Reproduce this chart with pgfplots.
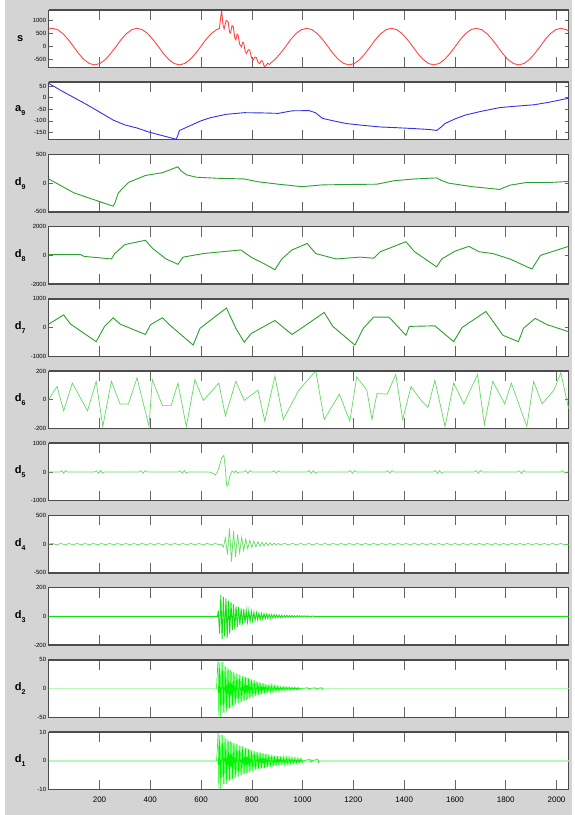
\documentclass[border=0pt]{standalone}
\usepackage{fontspec}
\setmainfont{Liberation Sans}
\usepackage{pgfplots}
\pgfplotsset{compat=1.18}
\definecolor{bggray}{RGB}{212,212,212}
\definecolor{cs}{RGB}{255,70,70}
\definecolor{ca}{RGB}{50,50,235}
\definecolor{cdk}{RGB}{45,160,45}
\definecolor{cd6}{RGB}{100,218,100}
\definecolor{cd5}{RGB}{95,222,95}
\definecolor{cd3}{RGB}{20,225,20}
\definecolor{cbr}{RGB}{0,245,0}
\definecolor{cpale}{RGB}{185,248,185}
\pgfplotsset{
  panel/.style={scale only axis, width=520pt, height=57.5pt, anchor=north west,
    xmin=0, xmax=2048, xtick={200,400,...,2000}, xticklabels={},
    tick align=inside, xtick pos=both, ytick pos=both,
    xtick style={gray!80!black, line width=0.6pt, /pgfplots/major tick length=10pt},
    ytick style={gray!80!black, line width=0.5pt, /pgfplots/major tick length=4pt},
    axis line style={gray!60!black, line width=0.6pt},
    axis background/.style={fill=white},
    /pgf/number format/assume math mode=true,
    /pgf/number format/1000 sep={},
    yticklabel style={font=\fontsize{6}{6}\selectfont, xshift=1pt},
    xticklabel style={font=\fontsize{8}{8}\selectfont, yshift=-4pt},
    ylabel style={rotate=-90, at={(axis description cs:-0.055,0.5)}, anchor=center, font=\fontsize{11}{11}\selectfont},
    every axis plot/.append style={line width=0.9pt},
  },
}
\newcommand{\lab}[2]{\textbf{#1}\raisebox{-4pt}{\fontsize{7}{7}\selectfont\textbf{#2}}}
\begin{document}
\begin{tikzpicture}
\useasboundingbox (0,0) rectangle (574pt,815pt);
\fill[white] (0,0) rectangle (574pt,815pt);
\fill[bggray] (4.5pt,0) rectangle (572pt,815pt);
% 1: s
\begin{axis}[panel, name=p1, at={(48.7pt,805pt)}, ymin=-800, ymax=1400, ytick={-500,0,500,1000}, ylabel={\textbf{s}}]
\addplot[cs] coordinates {
(0,676) (14,700) (35,647) (56,495) (77,268) (98,0) (118,-268) (139,-495) (160,-647) (181,-700) (202,-647) (223,-495) (244,-268) (265,0) (285,268) (306,495) (327,647)
(348,700) (369,647) (390,495) (411,268) (432,0) (452,-268) (473,-495) (494,-647) (515,-700) (536,-647) (557,-495) (578,-268) (599,0) (619,268) (640,495) (661,647)
(672,690) (681,1390) (687,800) (691,680) (699,1000) (707,940) (712,560) (716,520) (722,800) (727,760) (733,330) (737,260) (742,470) (746,440) (752,90) (759,-10) (764,160) (768,140) (774,-200) (779,-270) (786,-120) (792,-140) (799,-430) (805,-520) (812,-400) (818,-420) (825,-600) (831,-650) (837,-540) (842,-550) (849,-760) (855,-740) (862,-640) (870,-680) (878,-600) (891,-495)
(912,-268) (933,0) (953,268) (974,495) (995,647)
(1016,700) (1037,647) (1058,495) (1079,268) (1100,0) (1120,-268) (1141,-495) (1162,-647) (1183,-700) (1204,-647) (1225,-495) (1246,-268) (1267,0) (1287,268) (1308,495) (1329,647)
(1350,700) (1371,647) (1392,495) (1413,268) (1434,0) (1454,-268) (1475,-495) (1496,-647) (1517,-700) (1538,-647) (1559,-495) (1580,-268) (1601,0) (1621,268) (1642,495) (1663,647)
(1684,700) (1705,647) (1726,495) (1747,268) (1768,0) (1788,-268) (1809,-495) (1830,-647) (1851,-700) (1872,-647) (1893,-495) (1914,-268) (1935,0) (1955,268) (1976,495) (1997,647)
(2018,700) (2039,647) (2048,592)};
\end{axis}
% 2: a9
\begin{axis}[panel, name=p2, at={(48.7pt,732.8pt)}, ymin=-182, ymax=67, ytick={-150,-100,-50,0,50}, ylabel={\lab{a}{9}}]
\addplot[ca] coordinates {
(0,62) (50,30) (100,0) (150,-30) (200,-62) (254,-97) (300,-118) (350,-132) (395,-149) (450,-165) (502,-180) (508,-165) (515,-142) (560,-120) (600,-100) (636,-87) (700,-72) (770,-65) (840,-66) (904,-68) (958,-57) (1025,-56) (1050,-65) (1079,-90) (1120,-100) (1172,-112) (1240,-120) (1306,-127) (1370,-130) (1441,-134) (1500,-138) (1528,-142) (1545,-128) (1561,-112) (1600,-92) (1642,-75) (1700,-60) (1776,-43) (1850,-36) (1910,-31) (1970,-20) (2031,-6) (2048,-3)};
\end{axis}
% 3: d9
\begin{axis}[panel, name=p3, at={(48.7pt,660.6pt)}, ymin=-500, ymax=500, ytick={-500,0,500}, ylabel={\lab{d}{9}}]
\addplot[cdk] coordinates {
(0,73) (100,-170) (180,-290) (254,-400) (262,-330) (274,-170) (314,12) (381,133) (448,182) (509,285) (520,220) (542,145) (582,103) (663,85) (770,73) (824,24) (904,-18) (998,-61) (1079,-30) (1172,-24) (1293,-18) (1360,42) (1441,73) (1528,91) (1545,50) (1575,0) (1668,-61) (1776,-109) (1816,-36) (1883,12) (1977,12) (2048,30)};
\end{axis}
% 4: d8
\begin{axis}[panel, name=p4, at={(48.7pt,588.4pt)}, ymin=-2000, ymax=2000, ytick={-2000,0,2000}, ylabel={\lab{d}{8}}]
\addplot[cdk] coordinates {
(0,50) (126,50) (140,-75) (200,-170) (247,-250) (260,125) (300,750) (381,1050) (408,500) (462,-250) (509,-625) (529,-125) (609,125) (700,280) (757,375) (797,-125) (850,-600) (891,-1000) (918,-250) (958,375) (1018,825) (1052,125) (1132,-250) (1226,-125) (1280,-200) (1306,250) (1360,625) (1407,950) (1441,250) (1528,-800) (1548,-250) (1601,300) (1655,625) (1695,250) (1749,125) (1816,-250) (1903,-950) (1937,0) (1990,300) (2048,625)};
\end{axis}
% 5: d7
\begin{axis}[panel, name=p5, at={(48.7pt,516.2pt)}, ymin=-1000, ymax=1000, ytick={-1000,0,1000}, ylabel={\lab{d}{7}}]
\addplot[cdk] coordinates {
(0,120) (59,440) (86,120) (187,-490) (220,40) (254,340) (281,120) (381,-240) (401,100) (448,340) (475,100) (569,-610) (596,-25) (700,680) (737,-25) (770,-510) (797,-210) (891,245) (958,-240) (985,-85) (1085,525) (1119,40) (1206,-610) (1239,-25) (1280,365) (1340,365) (1407,-270) (1420,40) (1521,60) (1595,-490) (1628,0) (1722,560) (1789,-270) (1850,-490) (1870,-25) (1916,320) (1963,100) (2048,-145)};
\end{axis}
% 6: d6
\begin{axis}[panel, name=p6, at={(48.7pt,444pt)}, ymin=-200, ymax=200, ytick={-200,0,200}, ylabel={\lab{d}{6}}]
\addplot[cd6, line width=0.7pt] coordinates {
(0,0) (19,55) (33,92) (59,-77) (93,116) (153,-77) (187,128) (213,-186) (247,128) (281,-29) (314,-29) (348,152) (395,-186) (408,140) (448,-41) (482,-41) (509,116) (542,-186) (576,140) (609,-5) (670,116) (696,-113) (737,128) (770,-5) (824,67) (851,-149) (891,164) (924,-137) (985,67) (1052,200) (1085,-137) (1145,39) (1186,-149) (1213,159) (1253,67) (1273,-137) (1293,43) (1333,39) (1367,176) (1394,-137) (1427,92) (1467,-5) (1494,-53) (1521,135) (1561,-186) (1595,116) (1635,-29) (1689,176) (1716,-173) (1749,128) (1796,-29) (1822,116) (1883,-186) (1910,128) (1943,-29) (1990,67) (2017,188) (2048,-65)};
\end{axis}
% 7: d5
\begin{axis}[panel, name=p7, at={(48.7pt,371.8pt)}, ymin=-1000, ymax=1000, ytick={-1000,0,1000}, ylabel={\lab{d}{5}}]
\addplot[cd5, line width=0.7pt] coordinates {
(0,0) (45,0) (52,45) (59,-45) (66,45) (73,0)
(180,0) (188,40) (196,-45) (204,45) (212,-40) (220,0)
(356,0) (364,45) (372,-45) (380,45) (388,0)
(510,0) (518,40) (526,-45) (534,45) (542,-40) (550,0)
(630,0) (643,-30) (656,-100) (664,-20) (672,200) (681,480) (690,575) (696,100) (701,-480) (707,-450) (714,-120) (722,30) (730,-20) (737,40) (744,-40) (751,0)
(768,0) (776,45) (784,-45) (792,45) (800,0)
(880,0) (888,40) (896,-45) (904,40) (912,0)
(1018,0) (1026,45) (1034,-45) (1042,45) (1050,-40) (1058,0)
(1180,0) (1188,45) (1196,-45) (1204,45) (1212,0)
(1328,0) (1336,40) (1344,-45) (1352,45) (1360,0)
(1515,0) (1523,45) (1531,-45) (1539,45) (1547,-40) (1555,0)
(1676,0) (1684,45) (1692,-45) (1700,45) (1708,0)
(1846,0) (1854,40) (1862,-45) (1870,45) (1878,0)
(2016,0) (2024,45) (2032,-40) (2040,0) (2048,0)};
\end{axis}
% 8: d4
\begin{axis}[panel, name=p8, at={(48.7pt,299.6pt)}, ymin=-500, ymax=500, ytick={-500,0,500}, ylabel={\lab{d}{4}}]
\addplot[cd5, line width=0.7pt] coordinates {
(0,0) (16,12) (32,-12) (48,12) (64,-12) (80,12) (96,-12) (112,12) (128,-12) (144,12) (160,-12) (176,12) (192,-12) (208,12) (224,-12) (240,12) (256,-12) (272,12) (288,-12) (304,12) (320,-12) (336,12) (352,-12) (368,12) (384,-12) (400,12) (416,-12) (432,12) (448,-12) (464,12) (480,-12) (496,12) (512,-12) (528,12) (544,-12) (560,12) (576,-12) (592,12) (608,-12) (624,12) (640,-12) (656,12) (672,-12)
(680,0) (688,-50) (696,110) (704,-180) (712,275) (720,-305) (728,230) (736,-220) (744,170) (752,-150) (760,120) (768,-110) (776,90) (784,-80) (792,70) (800,-60) (808,55) (816,-48) (824,42) (832,-38) (840,34) (848,-30) (856,27) (864,-24) (872,22) (880,-20) (888,18) (896,-16) (904,14) (912,-12)
(928,12) (944,-12) (960,12) (976,-12) (992,12) (1008,-12) (1024,12) (1040,-12) (1056,12) (1072,-12) (1088,12) (1104,-12) (1120,12) (1136,-12) (1152,12) (1168,-12) (1184,12) (1200,-12) (1216,12) (1232,-12) (1248,12) (1264,-12) (1280,12) (1296,-12) (1312,12) (1328,-12) (1344,12) (1360,-12) (1376,12) (1392,-12) (1408,12) (1424,-12) (1440,12) (1456,-12) (1472,12) (1488,-12) (1504,12) (1520,-12) (1536,12) (1552,-12) (1568,12) (1584,-12) (1600,12) (1616,-12) (1632,12) (1648,-12) (1664,12) (1680,-12) (1696,12) (1712,-12) (1728,12) (1744,-12) (1760,12) (1776,-12) (1792,12) (1808,-12) (1824,12) (1840,-12) (1856,12) (1872,-12) (1888,12) (1904,-12) (1920,12) (1936,-12) (1952,12) (1968,-12) (1984,12) (2000,-12) (2016,12) (2032,-12) (2048,0)};
\end{axis}
% 9: d3
\begin{axis}[panel, name=p9, at={(48.7pt,227.4pt)}, ymin=-200, ymax=200, ytick={-200,0,200}, ylabel={\lab{d}{3}}]
\addplot[cd3, line width=0.9pt] coordinates {
(0,0) (665,0) (668,40) (673,-120) (678,150) (683,-157) (688,135) (693,-140) (698,125) (703,-150) (708,110) (713,-120) (718,100) (723,-95) (728,85) (733,-90) (738,70) (743,-75) (748,65) (753,-60) (758,55) (763,-58) (768,50) (773,-45) (778,42) (783,-40) (788,38) (793,-36) (798,34) (803,-30) (808,28) (813,-27) (818,25) (823,-24) (828,22) (833,-20) (838,20) (843,-18) (848,17) (853,-16) (858,15) (863,-14) (868,14) (873,-12) (878,12) (883,-11) (888,11) (893,-10) (898,10) (903,-9) (908,9) (913,-8) (918,8) (923,-8) (928,7) (933,-7) (938,7) (943,-6) (948,6) (953,-6) (958,6) (963,-5) (968,5) (973,-5) (978,5) (983,-4) (988,4) (993,-4) (998,4) (1003,-3) (1008,3) (1013,-3) (1018,3) (1023,-3) (1028,2) (1033,-2) (1038,2) (1045,0) (2048,0)};
\end{axis}
% 10: d2
\begin{axis}[panel, name=p10, at={(48.7pt,155.2pt)}, ymin=-50, ymax=50, ytick={-50,0,50}, ylabel={\lab{d}{2}}]
\addplot[cpale, line width=1.6pt] coordinates {(0,0) (2048,0)};
\addplot[cbr, line width=0.5pt] coordinates {
(661,0) (664,30) (667,50) (670,-48) (673,45) (676,-50) (679,47) (682,-44) (685,46) (688,-42) (691,40) (694,-43) (697,38) (700,-40) (703,36) (706,-37) (709,34) (712,-35) (715,32) (718,-33) (721,30) (724,-31) (727,29) (730,-29) (733,27) (736,-28) (739,26) (742,-26) (745,25) (748,-25) (751,24) (754,-24) (757,23) (760,-23) (763,22) (766,-22) (769,21) (772,-21) (775,20) (778,-20) (781,19) (784,-19) (787,18) (790,-17) (793,17) (796,-16) (799,16) (802,-15) (805,15) (808,-14) (811,14) (814,-13) (817,13) (820,-12) (823,12) (826,-11) (829,11) (832,-11) (835,10) (838,-10) (841,9) (844,-9) (847,9) (850,-8) (853,8) (856,-8) (859,7) (862,-7) (865,7) (868,-7) (871,6) (874,-6) (877,6) (880,-6) (883,5) (886,-5) (889,5) (892,-5) (895,4) (898,-4) (901,4) (904,-4) (907,4) (910,-4) (913,3) (916,-3) (919,3) (922,-3) (925,3) (928,-3) (931,3) (934,-3) (937,2.5) (940,-2.5) (943,2.5) (946,-2.5) (949,2.5) (952,-2.5) (955,2) (958,-2) (961,2) (964,-2) (967,2) (970,-2) (973,2) (976,-2) (979,2) (982,-2) (985,1.5) (988,-1.5) (991,0) (1020,1.5) (1023,-1.5) (1026,0) (1050,1.5) (1053,-1.5) (1056,0) (1075,1.5) (1078,-1.5) (1081,0)};
\end{axis}
% 11: d1
\begin{axis}[panel, name=p11, at={(48.7pt,83pt)}, ymin=-10, ymax=10, ytick={-10,0,10}, ylabel={\lab{d}{1}}, xticklabels={200,400,600,800,1000,1200,1400,1600,1800,2000}]
\addplot[cpale, line width=1.6pt] coordinates {(0,0) (2048,0)};
\addplot[cbr, line width=0.5pt] coordinates {
(661,0) (664,4) (667,10) (670,-9.5) (673,9) (676,-10) (679,9) (682,-8.5) (685,9) (688,-8) (691,8.5) (694,-8) (697,7.5) (700,-8) (703,7.5) (706,-7) (709,7) (712,-7) (715,6.8) (718,-6.5) (721,6.5) (724,-6.5) (727,6.2) (730,-6) (733,6) (736,-6) (739,5.8) (742,-5.5) (745,5.5) (748,-5.5) (751,5.3) (754,-5.2) (757,5.1) (760,-5) (763,5) (766,-4.8) (769,4.7) (772,-4.6) (775,4.5) (778,-4.4) (781,4.3) (784,-4.2) (787,4.1) (790,-4) (793,3.9) (796,-3.8) (799,3.7) (802,-3.6) (805,3.5) (808,-3.4) (811,3.3) (814,-3.3) (817,3.2) (820,-3.1) (823,3) (826,-3) (829,2.9) (832,-2.8) (835,2.8) (838,-2.7) (841,2.6) (844,-2.6) (847,2.5) (850,-2.5) (853,2.4) (856,-2.4) (859,2.3) (862,-2.3) (865,2.2) (868,-2.2) (871,2.1) (874,-2.1) (877,2) (880,-2) (883,1.9) (886,-1.9) (889,1.8) (892,-1.8) (895,1.7) (898,-1.7) (901,1.6) (904,-1.6) (907,1.5) (910,-1.5) (913,1.5) (916,-1.4) (919,1.4) (922,-1.3) (925,1.3) (928,-1.3) (931,1.2) (934,-1.2) (937,1.2) (940,-1.1) (943,1.1) (946,-1.1) (949,1) (952,-1) (955,1) (958,-1) (961,0.9) (964,-0.9) (967,0.9) (970,-0.9) (973,0.8) (976,-0.8) (979,0.8) (982,-0.8) (985,0.7) (988,-0.7) (991,0.7) (994,-0.7) (997,0.6) (1000,-0.6) (1003,0) (1030,0.6) (1033,-0.6) (1036,0) (1060,0.6) (1063,-0.6) (1066,0)};
\end{axis}
\foreach \p in {p1,p2,p3,p4,p5,p6,p7,p8,p9,p10,p11}{
  \draw[line width=1.5pt, black!70] (\p.north west) -- (\p.north east);
  \draw[line width=1.5pt, black!70] (\p.south west) -- (\p.south east);
}
\end{tikzpicture}
\end{document}
